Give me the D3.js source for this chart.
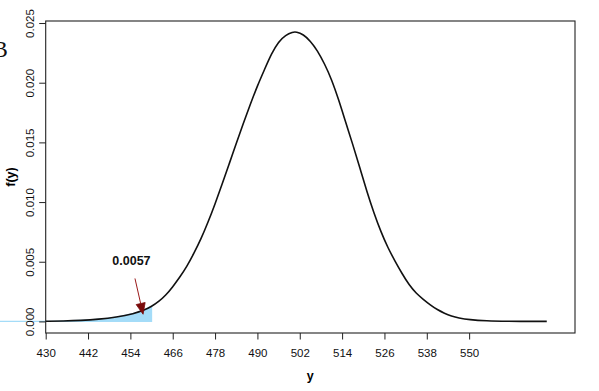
<!DOCTYPE html>
<html>
<head>
<meta charset="utf-8">
<script src="https://cdn.jsdelivr.net/npm/d3@7"></script>
<style>
  html, body { margin: 0; padding: 0; background: #fff; }
  svg { display: block; }
</style>
</head>
<body>
<svg id="chart" width="599" height="391"></svg>
<script>
// ---- data ----
const yValues = [430, 435, 440, 445, 450, 455, 458, 460, 462, 464, 466, 468, 470, 472, 474, 476, 478, 480, 482, 484, 486, 488, 490, 492, 494, 496, 498, 500, 501, 503, 505, 507, 509, 511, 513, 515, 517, 519, 521, 523, 525, 527, 529, 531, 533, 535, 537, 539, 541, 543, 545, 547, 550, 555, 560, 572];
const density = [0.00001, 0.00003, 0.00008, 0.00018, 0.00035, 0.00065, 0.00095, 0.00125, 0.00165, 0.00218, 0.00290, 0.00370, 0.00460, 0.00570, 0.00690, 0.00830, 0.00985, 0.01150, 0.01320, 0.01490, 0.01660, 0.01820, 0.01975, 0.02110, 0.02245, 0.02345, 0.02400, 0.02425, 0.02427, 0.02405, 0.02350, 0.02270, 0.02160, 0.02030, 0.01860, 0.01670, 0.01485, 0.01290, 0.01090, 0.00910, 0.00750, 0.00615, 0.00505, 0.00400, 0.00305, 0.00235, 0.00185, 0.00138, 0.00098, 0.00068, 0.00045, 0.00029, 0.00014, 0.00004, 0.00001, 0.0];
const xTicks = [430, 442, 454, 466, 478, 490, 502, 514, 526, 538, 550];
const yTicks = [0, 0.005, 0.010, 0.015, 0.020, 0.025];
const yTickLabels = ["0.000", "0.005", "0.010", "0.015", "0.020", "0.025"];
const shadeStart = 417, shadeEnd = 460;
const probLabel = "0.0057";
const arrowFrom = [455.3, 0.0036], arrowTo = [457.6, 0.0006];
const labelPos = [454.3, 0.0051];
const xDomain = [430, 580];
const yDomain = [-0.00097, 0.02517];

// ---- layout ----
const svg = d3.select("#chart");
const L = 45.7, R = 575, T = 21, B = 333;
const x = d3.scaleLinear().domain(xDomain).range([L, R]);
const y = d3.scaleLinear().domain(yDomain).range([B, T]);
const font = "'Liberation Sans', Arial, Helvetica, sans-serif";

const pts = yValues.map((v, i) => ({ v, d: density[i] }));

// shaded area
const shadePts = [{ v: shadeStart, d: 0 }].concat(pts.filter(p => p.v <= shadeEnd));
const area = d3.area().x(p => x(p.v)).y0(y(0)).y1(p => y(p.d)).curve(d3.curveBasis);
svg.append("path").datum(shadePts).attr("d", area)
  .attr("fill", "#a4dcf8").attr("stroke", "#a4dcf8").attr("stroke-width", 1.2);

// density curve
const line = d3.line().x(p => x(p.v)).y(p => y(p.d)).curve(d3.curveBasis);
svg.append("path").datum(pts).attr("d", line)
  .attr("fill", "none").attr("stroke", "#111").attr("stroke-width", 1.6);

// box
svg.append("rect").attr("x", L).attr("y", T).attr("width", R - L).attr("height", B - T)
  .attr("fill", "none").attr("stroke", "#222").attr("stroke-width", 1.1);

// x axis
const xAxis = d3.axisBottom(x).tickValues(xTicks).tickSize(6.5).tickPadding(4).tickFormat(d3.format("d"));
const gx = svg.append("g").attr("transform", `translate(0,${B})`).call(xAxis);
gx.select(".domain").remove();
gx.selectAll("line").attr("stroke", "#222");
gx.selectAll("text").attr("font-family", font).attr("font-size", "11.5px").attr("fill", "#111")
  .attr("dy", null).attr("y", 19.5).attr("dominant-baseline", "central");

// y axis
const yAxis = d3.axisLeft(y).tickValues(yTicks).tickSize(6.5).tickFormat((d, i) => yTickLabels[i]);
const gy = svg.append("g").attr("transform", `translate(${L},0)`).call(yAxis);
gy.select(".domain").remove();
gy.selectAll("line").attr("stroke", "#222");
gy.selectAll(".tick text")
  .attr("font-family", font).attr("font-size", "11.5px").attr("fill", "#111")
  .attr("x", null).attr("dy", null)
  .attr("text-anchor", "middle").attr("dominant-baseline", "central")
  .attr("transform", "translate(-15.7,0) rotate(-90)");

// axis titles
svg.append("text").attr("x", (L + R) / 2).attr("y", 375.5)
  .attr("text-anchor", "middle").attr("dominant-baseline", "central")
  .attr("font-family", font).attr("font-weight", "bold").attr("font-size", "12.5px").text("y");
svg.append("text").attr("transform", `translate(11,${(T + B) / 2}) rotate(-90)`)
  .attr("text-anchor", "middle").attr("dominant-baseline", "central")
  .attr("font-family", font).attr("font-weight", "bold").attr("font-size", "12.5px").text("f(y)");

// arrow
const ax0 = x(arrowFrom[0]), ay0 = y(arrowFrom[1]);
const ax1 = x(arrowTo[0]), ay1 = y(arrowTo[1]);
const ang = Math.atan2(ay1 - ay0, ax1 - ax0);
const headLen = 11, headW = 4.6;
const bx = ax1 - headLen * Math.cos(ang), by = ay1 - headLen * Math.sin(ang);
svg.append("line").attr("x1", ax0).attr("y1", ay0).attr("x2", bx).attr("y2", by)
  .attr("stroke", "#9b1a1a").attr("stroke-width", 1);
svg.append("path")
  .attr("d", `M${ax1},${ay1} L${bx + headW * Math.sin(ang)},${by - headW * Math.cos(ang)} L${bx - headW * Math.sin(ang)},${by + headW * Math.cos(ang)} Z`)
  .attr("fill", "#7a0a0a").attr("stroke", "#7a0a0a").attr("stroke-width", 0.8);

// probability label
svg.append("text").attr("x", x(labelPos[0])).attr("y", y(labelPos[1]))
  .attr("text-anchor", "middle").attr("dominant-baseline", "central")
  .attr("font-family", font).attr("font-weight", "bold").attr("font-size", "12.5px")
  .attr("fill", "#111").text(probLabel);

// panel letter (partly cut off at left, as in the reference)
svg.append("text").attr("x", -7.5).attr("y", 56.7)
  .attr("font-family", "'Liberation Serif', 'Times New Roman', serif").attr("font-size", "23px")
  .attr("fill", "#111").text("B");
</script>
</body>
</html>
